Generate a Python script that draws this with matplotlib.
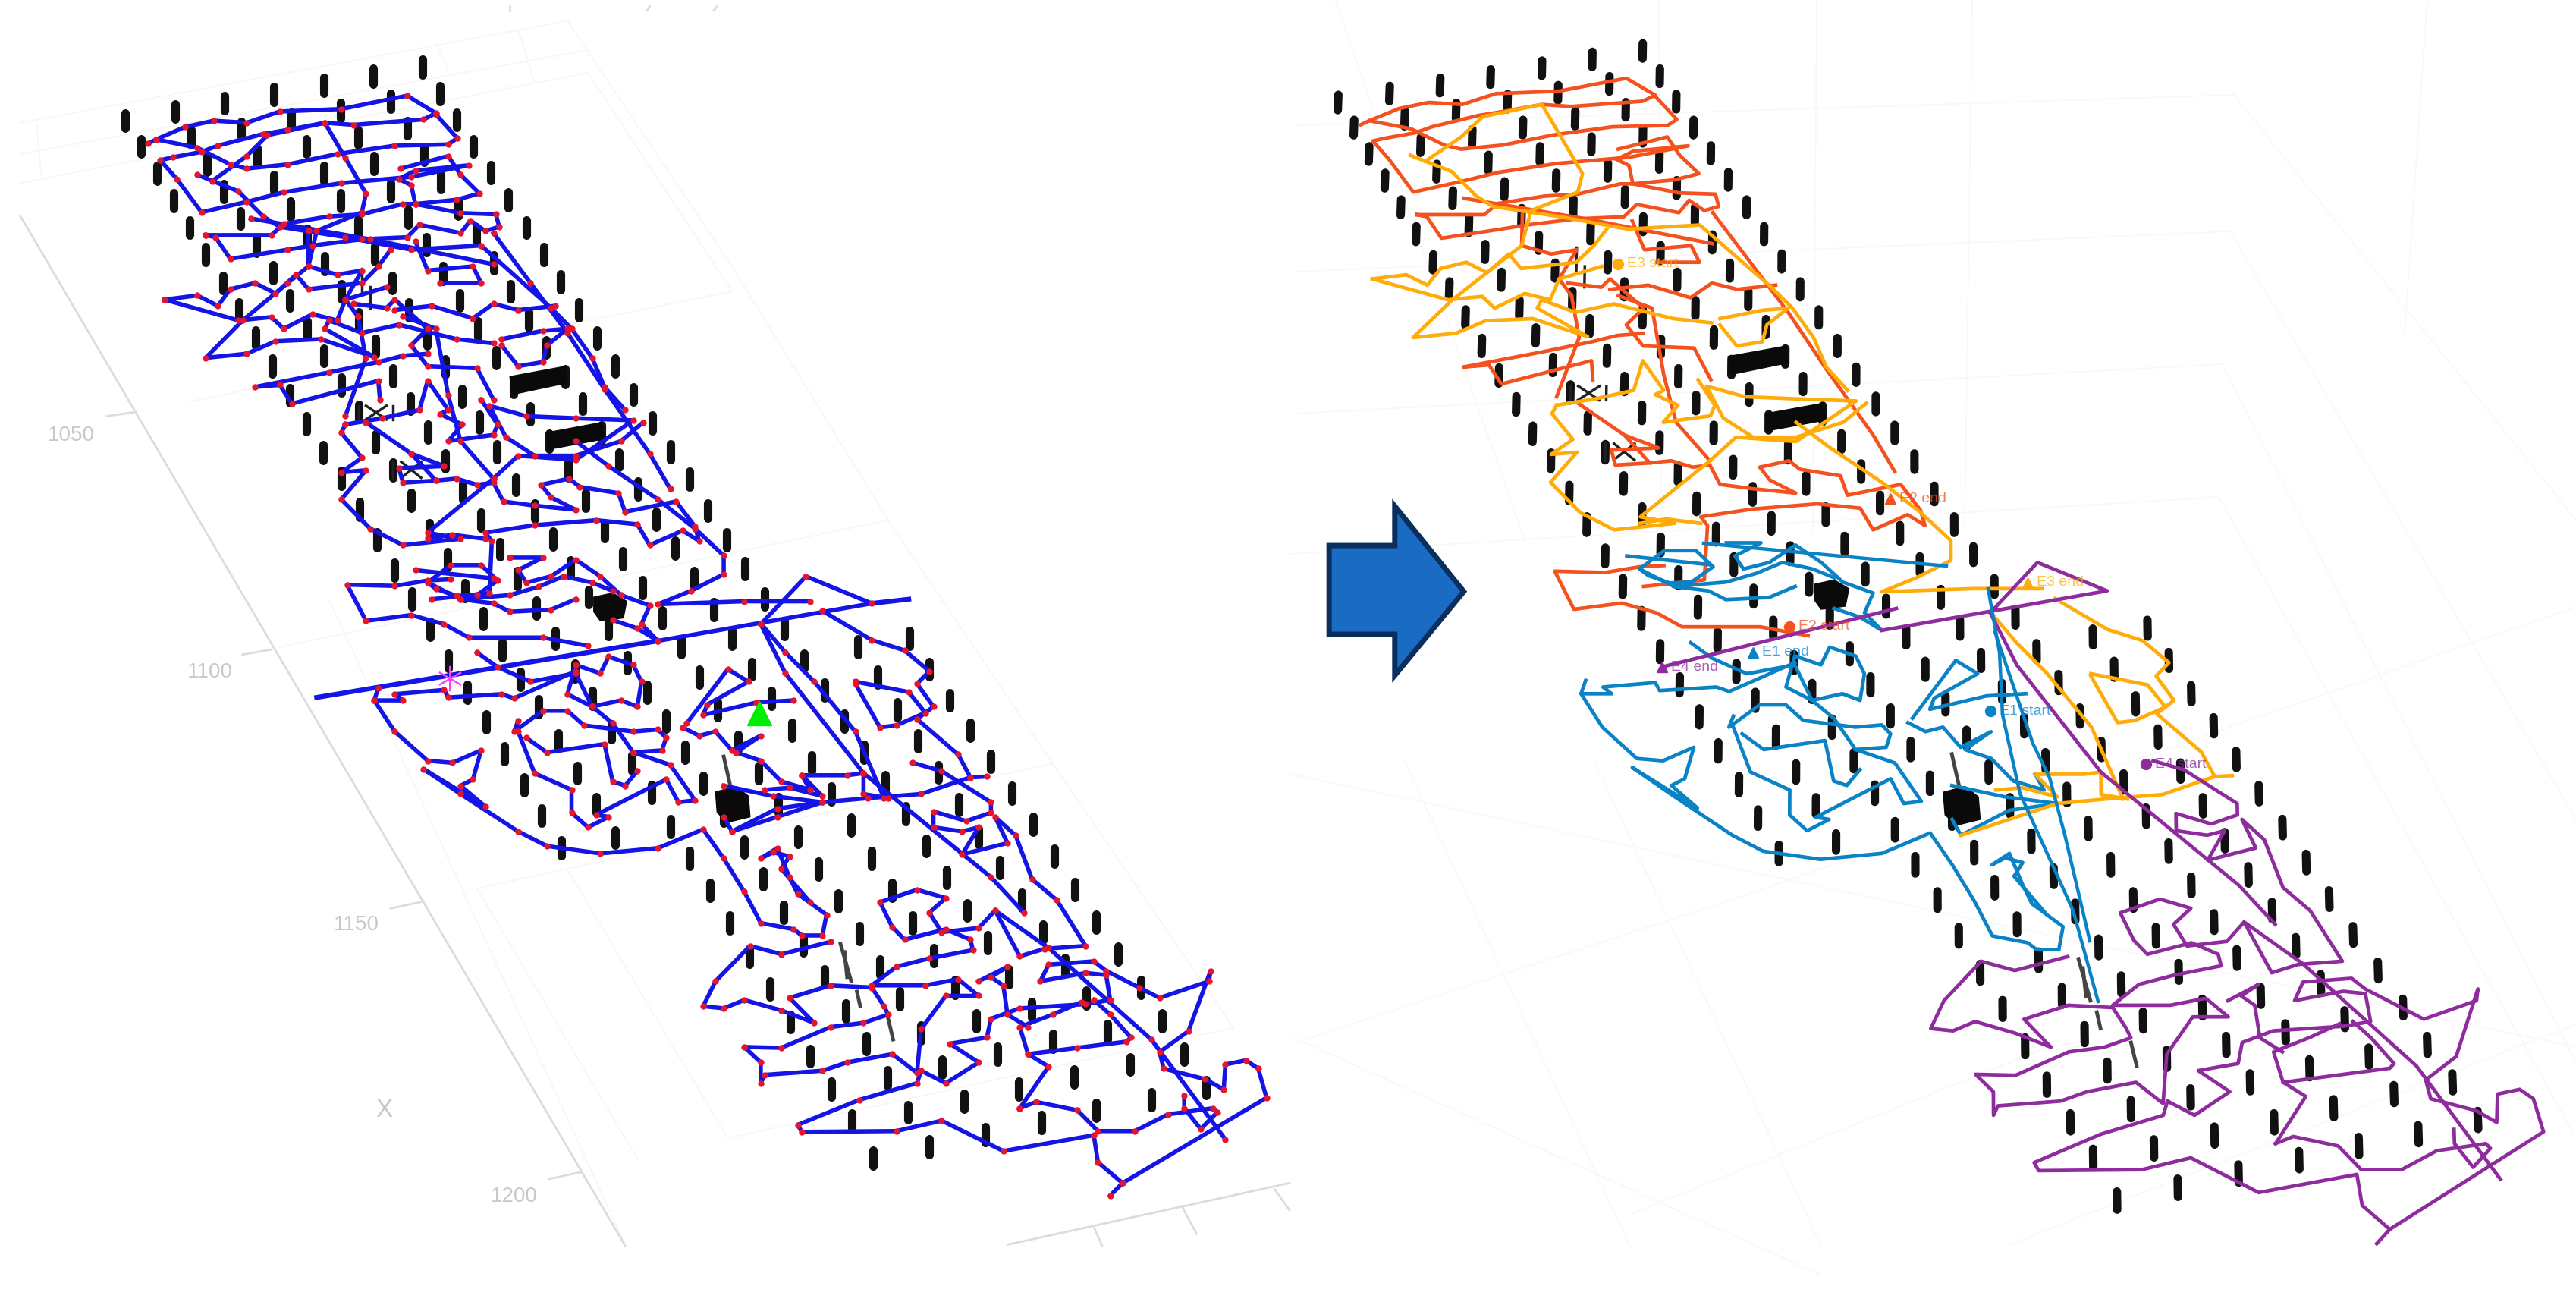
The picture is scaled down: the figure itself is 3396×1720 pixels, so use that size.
import numpy as np
import matplotlib
matplotlib.use("Agg")
import matplotlib.pyplot as plt
from matplotlib.patches import Polygon

plt.rcParams['font.family'] = ['Liberation Sans', 'DejaVu Sans']

# ---- sensor posts (upper frame)
POST_ROWS_UPPER = [
 [(152,290),(213,268),(273,248),(333,227),(394,205),(454,183),(514,162)],
 [(172,352),(232,330),(293,310),(354,288),(414,266),(475,244),(535,225)],
 [(191,417),(252,395),(313,375),(373,352),(435,330),(495,308),(555,288)],
 [(211,482),(272,460),(333,438),(394,417),(455,393),(516,372),(576,352)],
 [(231,547),(292,525),(353,503),(414,482),(475,458),(536,436),(597,415)],
 [(250,612),(312,590),(374,568),(435,546),(496,522),(557,500),(618,480)],
 [(271,680),(332,655),(395,633),(456,610),(518,588),(579,565),(640,547)],
 [(291,745),(352,722),(415,700),(477,680),(539,658),(600,632),(661,612)],
 [(311,812),(374,790),(436,768),(497,745),(559,722),(621,700),(682,678)],
 [(331,880),(394,855),(457,833),(519,812),(581,790),(643,768),(704,745)],
 [(352,950),(415,925),(478,903),(541,882),(603,860),(664,835),(726,812)],
 [(373,1018),(436,990),(499,970),(562,952),(624,930),(687,905),(748,880)],
 [(393,1087),(457,1062),(520,1038),(583,1015),(645,995),(708,970),(770,948)],
 [(415,1150),(478,1130),(541,1108),(604,1085),(668,1060),(731,1040),(793,1017)],
 [(437,1225),(500,1203),(563,1180),(627,1165),(691,1130),(753,1105),(815,1085)],
 [(458,1298),(522,1275),(585,1250),(650,1228),(712,1203),(776,1175),(838,1152)],
 [(480,1370),(544,1345),(608,1320),(672,1295),(735,1275),(798,1248),(861,1227)],
 [(501,1440),(565,1420),(629,1390),(694,1365),(757,1343),(821,1318),(884,1298)],
 [(523,1513),(588,1487),(652,1462),(716,1435),(781,1412),(844,1390),(906,1367),(930,1440)],
 [(611,1562),(675,1535),(740,1510),(805,1485),(828,1555),(868,1465),(890,1535),(954,1510),(1043,1555),(1106,1535)],
]
# lower frame, by column
POST_COLS_LOWER = [
 [(545,20),(568,95),(591,167),(613,243),(637,318),(659,392),(683,470)],
 [(633,65),(655,130),(679,212),(702,290),(725,365),(748,445)],
 [(699,45),(720,110),(743,190),(768,265),(792,337),(815,418),(838,495),(863,572),(887,650),(911,730),(936,808),(961,888),(985,970),(1011,1050),(1036,1125),(1062,1215)],
 [(763,25),(787,95),(810,165),(833,240),(855,315),(880,392),(905,468),(928,545),(953,625),(977,703),(1003,780),(1028,862),(1053,940),(1079,1022),(1104,1105),(1130,1188)],
 [(850,60),(873,138),(897,215),(922,290),(946,365),(970,443),(995,520),(1019,597),(1045,675),(1070,755),(1094,833),(1120,915),(1146,997),(1172,1078),(1198,1158)],
 [(914,40),(938,110),(963,187),(987,265),(1011,340),(1035,415),(1060,495),(1085,572),(1110,650),(1135,728),(1161,805),(1187,885),(1213,965),(1239,1050),(1266,1130)],
 [(978,20),(1003,90),(1027,165),(1051,240),(1076,312),(1101,388),(1126,465),(1151,540),(1176,620),(1201,698),(1227,780),(1254,858),(1280,935),(1306,1020),(1333,1100)],
 [(1067,60),(1091,138),(1116,212),(1141,288),(1166,365),(1190,442),(1216,517),(1242,595),(1268,672),(1295,752),(1321,830),(1347,910),(1374,990),(1400,1075)],
 [(1130,40),(1155,115),(1180,187),(1205,262),(1230,338),(1256,413),(1282,490),(1307,570),(1333,648),(1360,725),(1387,805),(1413,885),(1440,965),(1467,1045)],
]
BLOCKS_UPPER = [
 [(620,905),(688,880),(690,920),(623,948)],
 [(664,1040),(732,1015),(734,1055),(667,1080)],
 [(722,1435),(745,1425),(762,1445),(758,1485),(730,1492),(722,1470)],
]
BLOCKS_LOWER = [
 [(870,335),(895,322),(910,345),(912,395),(885,408),(872,385)],
]
THIN_LOWER = [[(880,250),(888,320)],[(1022,700),(1035,790)],[(1042,815),(1046,850)],[(1080,880),(1086,930)],[(1027,720),(1030,780)]]
GLYPHS_UPPER = [[(436,975),(436,1008)],[(445,975),(470,1008)],[(470,975),(445,1008)],[(478,975),(478,1008)],
                [(478,1108),(478,1150)],[(488,1110),(512,1148)],[(512,1110),(488,1148)],
                [(440,645),(440,700)],[(450,690),(450,740)]]

# ---- walks, upper frame
E2_UPPER = [
 [(715,1552),(660,1532),(570,1532),(540,1500),(500,1478),(445,1492),(422,1405),(480,1408),(520,1395),(548,1392)],
 [(525,1440),(595,1425),(598,1300),(590,1280),(650,1262),(725,1250),(775,1260),(790,1310),(830,1275),(850,1300),(845,1265),(822,1205),(760,1230),(752,1185),(705,1170),(692,1150),(658,1165),(670,1195),(700,1225),(650,1215),(612,1205),(600,1160),(580,1165),(555,1150),(530,1155),(500,1090),(445,1015)],
 [(530,1155),(490,1160),(485,1125),(540,1120),(500,1090)],
 [(462,960),(460,915),(355,970),(340,925),(310,930),(400,895),(460,870),(490,855),(520,850)],
 [(180,345),(190,335),(225,305),(260,290),(300,295),(340,268),(415,262),(495,230),(530,272),(515,287),(430,300),(395,295),(350,312),(320,322),(265,350),(245,365),(210,378),(195,385),(215,430),(245,510),(300,485),(345,462),(415,440),(500,425),(570,397),(505,410),(485,430),(500,445),(505,490),(555,480),(583,465),(560,420),(545,375),(487,405)],
 [(530,275),(556,332),(545,347),(480,350),(410,370),(350,395),(300,405),(280,395),(240,355),(190,335)],
 [(250,565),(262,570),(280,622),(350,600),(380,590),(440,575),(495,570),(510,540),(560,560),(572,530),(590,555),(607,545),(603,515),(560,512),(505,490),(490,490),(440,515),(400,520),(345,538),(330,565),(250,565)],
 [(305,525),(450,575),(600,635)],
 [(600,560),(645,680),(690,800),(735,935),(790,1090),(815,1175)],
 [(480,745),(525,735),(575,765),(600,730),(630,745),(675,735)],
 [(430,730),(470,740),(480,720),(520,790),(500,830),(520,880),(580,885),(600,960)],
 [(375,555),(375,640),(410,660),(440,650),(420,720),(435,760)],
 [(505,580),(520,650),(575,640),(585,680),(535,680)],
 [(435,760),(445,860),(420,1000)],
 [(490,760),(530,790),(545,950),(560,1060),(600,1150)],
]
E3_UPPER = [
 [(258,435),(300,375),(325,325),(395,295),(420,380),(445,465),(440,510),(385,555),(375,640),(350,680),(295,770),(250,860),(300,850),(335,820),(390,815),(455,858),(395,790),(400,770),(440,800),(485,780),(555,815),(600,825)],
 [(240,420),(290,460),(320,520),(340,545),(420,570),(500,600),(585,590),(670,740),(695,790),(720,860),(735,930),(760,985)],
 [(200,720),(290,770),(330,762),(345,790),(380,755),(410,770),(420,720),(470,690)],
 [(200,720),(240,710),(265,735),(280,695),(310,680),(335,705),(360,660),(375,695),(440,680),(460,640),(475,600)],
 [(610,815),(660,795),(690,790),(665,830),(660,870),(630,880),(610,830)],
 [(420,1020),(465,1005),(510,985),(520,915),(545,985),(535,995),(562,1020),(545,1060),(600,1045),(605,1020),(585,960)],
 [(420,1020),(415,1040),(440,1100),(415,1135),(445,1130),(415,1200),(450,1270),(490,1310),(560,1295),(520,1280),(600,1150),(630,1095),(700,1105),(770,1010),(700,1005),(640,1000),(595,975),(615,1050),(650,1095),(700,1095),(755,1060),(782,1015)],
 [(700,1060),(740,1120),(800,1200),(845,1270),(880,1335),(880,1380),(840,1420),(800,1452),(905,1445),(985,1445)],
 [(520,1295),(550,1285),(590,1295)],
]
E1_UPPER = [
 [(520,1400),(548,1358),(585,1358),(605,1395),(580,1430),(555,1432),(530,1415),(520,1400),(560,1440),(620,1430),(655,1410),(685,1385),(720,1400),(745,1420)],
 [(620,1340),(660,1340),(630,1370),(640,1400),(670,1385),(700,1345),(730,1385),(755,1430),(790,1455),(780,1500),(800,1540),(775,1510),(745,1490)],
 [(560,1440),(600,1450),(620,1470),(670,1465),(700,1440)],
 [(505,1370),(600,1390)],
]
E1_LOWER = [
 [(460,85),(455,115),(490,115),(480,100),(540,90),(545,108),(610,100),(625,110),(700,45)],
 [(455,115),(480,190),(520,260),(550,265),(585,235),(575,305),(560,320),(590,370),(515,280),(560,340),(630,430),(665,465),(730,483),(800,470),(855,425),(880,495),(905,575),(925,650),(965,665),(975,680),(1000,680),(1005,630),(970,580),(960,540),(945,470),(925,495),(940,480),(960,490),(950,520),(985,600)],
 [(630,165),(625,190),(660,140),(690,140),(710,175),(770,190),(800,185),(810,205),(805,235),(770,240),(745,170),(720,130)],
 [(640,205),(665,240),(735,220),(745,310),(760,320),(775,285)],
 [(630,190),(650,290),(695,330),(695,385),(715,420),(740,395),(725,390),(810,305),(825,360),(845,355),(815,270),(770,240)],
 [(580,0),(605,35),(645,70),(700,50),(720,130),(755,115),(775,130),(780,70),(770,30),(740,10),(730,50),(700,30),(690,100),(720,130)],
 [(835,170),(885,40),(910,70),(860,125),(855,150),(920,120),(965,115)],
 [(830,180),(850,200),(870,190),(890,235),(925,200),(895,240),(925,260),(950,310),(985,330),(975,295)],
 [(880,320),(940,345),(1000,360),(945,375),(890,430),(880,395)],
]
E3_LOWER = [
 [(890,430),(945,395),(1000,360),(1055,350),(1120,340),(1180,300),(1200,298)],
 [(930,330),(960,325),(1000,345),(975,295),(1030,295),(1050,290),(1050,340),(1080,350)],
 [(925,-70),(955,0),(990,70),(1040,190),(1075,350)],
 [(1040,70),(1105,95),(1125,145),(1090,175),(1070,180),(1040,75)],
 [(1000,-100),(1060,-30),(1100,-5),(1130,45),(1115,75),(1135,130),(1115,160),(1165,245),(1180,300)],
]
E4_LOWER = [
 [(800,-28),(1060,-118),(980,-183),(925,-68),(955,50),(1050,290),(1205,540),(1245,625)],
 [(1110,265),(1145,285),(1205,360),(1205,385),(1175,405),(1135,382),(1135,420),(1170,430),(1190,420),(1170,485),(1225,458),(1210,395),(1235,440),(1255,545),(1285,595),(1320,705),(1270,712),(1240,730),(1210,620),(1190,662),(1145,672),(1130,625),(1150,590),(1115,570),(1070,600),(1085,660),(1100,690),(1150,665),(1180,690),(1183,715),(1130,735),(1090,755),(1060,800),(1125,800),(1165,785),(1190,825),(1150,825),(1120,905),(1115,1010),(1085,965),(1030,985),(1000,1005),(930,1015),(925,1035),(925,985),(905,948),(950,950),(1010,900),(1050,890),(1080,870),(1075,850),(1060,805),(1010,800),(960,830),(990,890),(950,860),(905,835),(880,855),(855,850),(870,790),(912,705),(950,725),(1010,695)],
 [(1120,1005),(1115,1035),(1045,1075),(970,1135),(975,1152),(1090,1150),(1145,1125),(1220,1198),(1330,1160),(1335,1225),(1365,1275),(1540,1070),(1530,1000),(1515,980),(1490,990),(1488,1050),(1465,1025),(1415,1000),(1410,960),(1445,910),(1472,765),(1470,790),(1410,830),(1385,805),(1345,765),(1330,742),(1275,750),(1265,790),(1320,770),(1345,775),(1350,835),(1320,845),(1240,855),(1205,880),(1200,925),(1155,940),(1190,985),(1150,1035),(1120,1005)],
 [(1240,1095),(1275,995),(1250,965),(1240,900),(1280,870),(1315,840)],
 [(1240,1095),(1260,1080),(1310,1100),(1335,1150),(1380,1150),(1420,1110),(1475,1095),(1480,1105),(1460,1145),(1440,1095),(1440,1065)],
 [(1250,965),(1310,950),(1370,935),(1375,925),(1350,870),(1330,835)],
 [(1190,790),(1225,755),(1205,780),(1220,800),(1225,870),(1250,900)],
 [(1210,620),(1275,710),(1400,930),(1490,1170)],
 [(1365,1275),(1350,1305)],
]
# the long straight stretch of E4 as the left panel has it, beyond the right panel's ends
E4_LEFT_ONLY = [[(385,108),(800,-28)],[(1060,-118),(1105,-128)]]
E4_RIGHT_ONLY_PX = [[(2191,879),(2500,802)]]
# routes seen only in the right panel, in image pixels
E1_RIGHT_PX = [[(2621,776),(2636,860),(2640,942),(2663,1046),(2733,1200),(2766,1320)],
               [(2630,833),(2680,980),(2702,1025),(2722,1100),(2755,1240)],
               [(2246,716),(2566,746)]]
# text markers on the right panel, image pixels
LABELS = ["E2 end","E3 end","E2 start","E1 end","E4 end","E1 start","E4 start","E3 start"]
LABEL_XY = [(2492,657),(2673,768),(2359,826),(2311,860),(2191,879),(2624,937),(2829,1007),(2133,348)]
LABEL_MK = ['^','^','o','^','^','o','o','o']
LABEL_KEY = ['E2','E3','E2','E1','E4','E1','E4','E3']

COLORS = {'E1':'#0A82C6','E2':'#F4511E','E3':'#FFAC0A','E4':'#8E2C9E'}

# ---- left panel furniture, upper frame
X_TICKS = [1050,1100,1150,1200]
X_TICK_POS = [(87,1047),(255,1616),(433,2223),(625,2875)]
X_TICK_SEG = [[(130,1000),(165,990)],[(295,1573),(330,1561)],[(475,2183),(515,2166)],[(668,2833),(708,2816)]]
GRID_LEFT = [[(25,295),(690,50)],[(25,370),(715,120)],[(25,440),(715,175)],[(690,50),(890,640)],[(715,175),(890,700)],
 [(230,965),(890,700)],[(340,1555),(1080,1250)],[(580,2135),(1280,1835)],[(885,2735),(1500,2470)],
 [(890,640),(1080,1250)],[(1080,1250),(1280,1835)],[(1280,1835),(1500,2470)],
 [(45,300),(50,420)],[(530,105),(545,170)],[(630,70),(650,200)],
 [(400,1440),(760,2990)],[(580,2135),(775,2785)],[(690,2090),(885,2735)]]
AXIS_RIGHT = [[(1225,2991),(1568,2843)],[(1330,2948),(1340,2993)],[(1437,2898),(1455,2965)],[(1550,2858),(1568,2908)]]
TOP_STUBS = [[(620,15),(620,25)],[(790,15),(787,25)],[(872,15),(868,25)]]

# right-panel faint grid, image pixels
GRID_RIGHT = [[(1710,165),(2945,125)],[(1710,358),(2940,305)],[(1710,545),(2930,480)],[(1700,730),(2925,655)],
 [(2945,125),(3396,685)],[(2940,305),(3396,1080)],[(2930,480),(3396,1400)],[(2925,655),(3396,1500)],
 [(1760,0),(2010,712)],[(2187,0),(2190,705)],[(2395,0),(2390,700)],[(2600,0),(2590,700)],[(3200,0),(3170,440)],
 [(1700,1020),(3396,1380)],[(1720,1370),(2300,1180)],[(2300,1180),(3396,800)],[(1700,1365),(2400,1680)],
 [(1850,1000),(2150,1645)],[(2100,1000),(2400,1640)],[(2650,1640),(3396,1350)],[(2150,1600),(2700,1380)]]
ARROW_REF = [(809,332),(849,332),(849,308),(891,360),(849,411),(849,386),(809,386)]

SX, SY = 1700/1568, 860/1568
LOW = 1568

def to_left(pts, lower=False):
    a = np.asarray(pts, float)
    return a[:,0]*SX, (a[:,1]+(LOW if lower else 0))*SY

def to_right(pts, lower=False):
    x, y = to_left(pts, lower)
    rx = x + 1603 - .045*y + x*(.012 + .000052*y)
    ry = y - 17.8 - .0493*y + 6.4e-5*y*y
    return rx, ry

fig = plt.figure(figsize=(33.96,17.2), dpi=100, facecolor='white')
ax = fig.add_axes([0,0,1,1])
ax.set_xlim(0,3396); ax.set_ylim(1720,0); ax.axis('off')

# furniture
for seg in GRID_LEFT:
    x,y = to_left(seg); ax.plot(x,y,color='#f6f6f6',lw=1.2,zorder=1)
x,y = to_left([(25,520),(760,2993)]); ax.plot(x,y,color='#dcdcdc',lw=2,zorder=1)
for seg in X_TICK_SEG+AXIS_RIGHT+TOP_STUBS:
    x,y = to_left(seg); ax.plot(x,y,color='#dcdcdc',lw=2,zorder=1)
for v,p in zip(X_TICKS,X_TICK_POS):
    x,y = to_left([p]); ax.text(x[0],y[0],str(v),color='#c8c8c8',fontsize=20,ha='center',va='center')
x,y = to_left([(467,2668)]); ax.text(x[0],y[0],'X',color='#c8c8c8',fontsize=24,ha='center',va='center')
for s in GRID_RIGHT:
    a=np.array(s); ax.plot(a[:,0],a[:,1],color='#f8f8f8',lw=1.2,zorder=1)

def draw_posts(conv):
    for row in POST_ROWS_UPPER:
        for p in row:
            x,y = conv([(p[0],p[1]-19),(p[0],p[1]+19)])
            ax.plot(x,y,color='#111111',lw=8,solid_capstyle='round',zorder=2)
    for col in POST_COLS_LOWER:
        for p in col:
            x,y = conv([(p[0],p[1]-19),(p[0],p[1]+19)],True)
            ax.plot(x,y,color='#111111',lw=8,solid_capstyle='round',zorder=2)
    for b in BLOCKS_UPPER:
        x,y = conv(b); ax.add_patch(Polygon(np.c_[x,y],fc='#0a0a0a',ec='#0a0a0a',zorder=2))
    for b in BLOCKS_LOWER:
        x,y = conv(b,True); ax.add_patch(Polygon(np.c_[x,y],fc='#0a0a0a',ec='#0a0a0a',zorder=2))
    for t in THIN_LOWER:
        x,y = conv(t,True); ax.plot(x,y,color='#444444',lw=3.5,zorder=2)
    for t in GLYPHS_UPPER:
        x,y = conv(t); ax.plot(x,y,color='#222222',lw=2.5,zorder=2)

draw_posts(to_left)
draw_posts(to_right)

groups = [('E2',E2_UPPER,False),('E3',E3_UPPER,False),('E1',E1_UPPER,False),('E1',E1_LOWER,True),('E3',E3_LOWER,True),('E4',E4_LOWER,True)]
for key,paths,low in groups:
    for p in paths:
        x,y = to_left(p,low)
        ax.plot(x,y,color='#1414E6',lw=4,solid_joinstyle='round',zorder=3)
        ax.plot(x,y,ls='none',marker='o',ms=5,color='#E6142D',zorder=4)
        x,y = to_right(p,low)
        ax.plot(x,y,color=COLORS[key],lw=3.4,solid_joinstyle='round',zorder=3)
for p in E4_LEFT_ONLY:
    x,y = to_left(p,True); ax.plot(x,y,color='#1414E6',lw=4.6,zorder=3)
for p in E4_RIGHT_ONLY_PX:
    a=np.array(p); ax.plot(a[:,0],a[:,1],color=COLORS['E4'],lw=3.4,zorder=3)
for p in E1_RIGHT_PX:
    a=np.array(p); ax.plot(a[:,0],a[:,1],color=COLORS['E1'],lw=3.2,zorder=3)

# start/end markers left
x,y = to_left([(923,145)],True); ax.plot(x,y,marker='^',ms=23,color='#00EE00',ls='none',zorder=5)
x,y = to_left([(547,62)],True); ax.plot(x,y,marker=(6,2,0),ms=24,mew=1.5,color='#FF40FF',ls='none',zorder=5)

for t,(x,y),m,k in zip(LABELS,LABEL_XY,LABEL_MK,LABEL_KEY):
    ax.plot([x],[y],marker=m,ms=10,color=COLORS[k],ls='none',zorder=6)
    ax.text(x+12,y,t,color=COLORS[k],alpha=.75,fontsize=14,va='center',ha='left',zorder=6)

arrow = np.array(ARROW_REF,float)*3396/1568
ax.add_patch(Polygon(arrow,closed=True,fc='#1A6BC4',ec='#0A2F5C',lw=5,zorder=6,joinstyle='miter'))

fig.savefig('out.png',dpi=100,facecolor='white')
